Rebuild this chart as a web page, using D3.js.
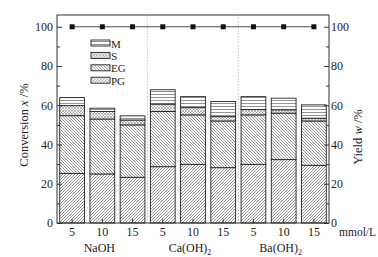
<!DOCTYPE html>
<html>
<head>
<meta charset="utf-8">
<script src="https://cdn.jsdelivr.net/npm/d3@7"></script>
<style>
	body { margin: 0; background: #fff; }
	text { font-family: "Liberation Serif", "DejaVu Serif", serif; fill: #222; }
</style>
</head>
<body>
<div id="container"></div>
<script>
// concentration of each bar (mmol/L) and the base used
const categories = ["5", "10", "15", "5", "10", "15", "5", "10", "15"];
const groups = [["NaOH", ""], ["Ca(OH)", "2"], ["Ba(OH)", "2"]];
// yields (%), stacked from the bottom
const PG = [25.3, 25.0, 23.3, 28.7, 29.9, 28.2, 29.9, 32.3, 29.4];
const EG = [29.4, 28.0, 26.7, 28.1, 25.2, 23.8, 25.2, 23.7, 22.6];
const S = [5.1, 3.8, 2.5, 3.8, 3.7, 2.2, 2.7, 1.7, 1.4];
const M = [4.1, 1.7, 2.1, 7.3, 5.6, 7.7, 6.6, 5.9, 6.8];
// conversion (%)
const conversion = [100, 100, 100, 100, 100, 100, 100, 100, 100];
const yTicks = [0, 20, 40, 60, 80, 100];
const yMinor = [10, 30, 50, 70, 90];

const width = 378;
const height = 257;
const margin = { top: 15, right: 49, bottom: 34, left: 57 };

const svg = d3.select("#container")
				.append("svg")
					.attr("width", width)
					.attr("height", height);

// hatch patterns
const defs = svg.append("defs");
function hatch(id, paths, size, color, sw) {
	const p = defs.append("pattern")
					.attr("id", id)
					.attr("patternUnits", "userSpaceOnUse")
					.attr("width", size)
					.attr("height", size);
	p.append("rect").attr("width", size).attr("height", size).attr("fill", "#fff");
	paths.forEach((d) => p.append("path").attr("d", d)
						.attr("stroke", color).attr("stroke-width", sw));
}
hatch("pg", ["M0,3 L3,0", "M-1,1 L1,-1", "M2,4 L4,2"], 3, "#666", 0.7);
hatch("eg", ["M0,0 L3,3", "M-1,2 L1,4", "M2,-1 L4,1"], 3, "#666", 0.7);
hatch("s", ["M0,0 L3,3", "M0,3 L3,0"], 3, "#888", 0.6);
hatch("m", ["M0,1.5 L3,1.5"], 3, "#666", 0.7);

const series = [
	{ key: "PG", values: PG, fill: "url(#pg)" },
	{ key: "EG", values: EG, fill: "url(#eg)" },
	{ key: "S", values: S, fill: "url(#s)" },
	{ key: "M", values: M, fill: "url(#m)" }
];

const x = d3.scaleBand()
			.domain(d3.range(categories.length))
			.range([margin.left, width - margin.right])
			.paddingInner(0.18)
			.paddingOuter(0.09);

const y = d3.scaleLinear()
			.domain([0, 106])
			.range([height - margin.bottom, margin.top]);

// group separators
[3, 6].forEach((i) => {
	const xs = x(i) - x.step() * x.paddingInner() / 2;
	svg.append("line")
		.attr("x1", xs).attr("x2", xs)
		.attr("y1", margin.top).attr("y2", height - margin.bottom)
		.attr("stroke", "#aaa").attr("stroke-width", 0.7)
		.attr("stroke-dasharray", "1.5,1.5");
});

// stacked bars
const rows = categories.map((c, i) => {
	const r = {};
	series.forEach((s) => r[s.key] = s.values[i]);
	return r;
});
const stack = d3.stack().keys(series.map((s) => s.key))(rows);

stack.forEach((layer, k) => {
	svg.append("g")
		.selectAll("rect")
		.data(layer).enter()
		.append("rect")
			.attr("x", (d, i) => x(i))
			.attr("width", x.bandwidth())
			.attr("y", (d) => y(d[1]))
			.attr("height", (d) => y(d[0]) - y(d[1]))
			.attr("fill", series[k].fill)
			.attr("stroke", "#222")
			.attr("stroke-width", 0.9);
});

// conversion line + squares
const cx = (i) => x(i) + x.bandwidth() / 2;
const line = d3.line()
				.x((d, i) => cx(i))
				.y((d) => y(d));
svg.append("path")
	.attr("d", line(conversion))
	.attr("fill", "none")
	.attr("stroke", "#222")
	.attr("stroke-width", 0.8);
svg.append("g")
	.selectAll("rect")
	.data(conversion).enter()
	.append("rect")
		.attr("x", (d, i) => cx(i) - 2.5)
		.attr("y", (d) => y(d) - 2.5)
		.attr("width", 5)
		.attr("height", 5)
		.attr("fill", "#111");

// frame
svg.append("rect")
	.attr("x", margin.left)
	.attr("y", margin.top)
	.attr("width", width - margin.left - margin.right)
	.attr("height", height - margin.top - margin.bottom)
	.attr("fill", "none")
	.attr("stroke", "#333")
	.attr("stroke-width", 1);

// axes
function styleAxis(g) {
	g.select(".domain").remove();
	g.selectAll("line").attr("stroke", "#333");
	g.selectAll("text").attr("font-size", 12).attr("fill", "#222")
		.style("font-family", "Liberation Serif, serif");
}

svg.append("g")
	.attr("transform", `translate(${margin.left},0)`)
	.call(d3.axisLeft(y).tickValues(yTicks).tickSizeInner(-5).tickSizeOuter(0).tickPadding(4))
	.call(styleAxis);
svg.append("g")
	.attr("transform", `translate(${margin.left},0)`)
	.call(d3.axisLeft(y).tickValues(yMinor).tickSizeInner(-3).tickSizeOuter(0).tickFormat(""))
	.call(styleAxis);

svg.append("g")
	.attr("transform", `translate(${width - margin.right},0)`)
	.call(d3.axisRight(y).tickValues(yTicks).tickSizeInner(-5).tickSizeOuter(0).tickPadding(2))
	.call(styleAxis);
svg.append("g")
	.attr("transform", `translate(${width - margin.right},0)`)
	.call(d3.axisRight(y).tickValues(yMinor).tickSizeInner(-3).tickSizeOuter(0).tickFormat(""))
	.call(styleAxis);

svg.append("g")
	.attr("transform", `translate(0,${height - margin.bottom})`)
	.call(d3.axisBottom(x).tickFormat((i) => categories[i]).tickSizeInner(-4).tickSizeOuter(0).tickPadding(4))
	.call(styleAxis);

svg.append("text")
	.attr("x", 339)
	.attr("y", 236)
	.attr("font-size", 11.5)
	.text("mmol/L");

// group labels
groups.forEach((g, k) => {
	const t = svg.append("text")
				.attr("x", cx(k * 3 + 1) - 3)
				.attr("y", 252)
				.attr("text-anchor", "middle")
				.attr("font-size", 12)
				.text(g[0]);
	if (g[1]) t.append("tspan").attr("font-size", 8).attr("dy", 3).text(g[1]);
});

// axis titles
const lt = svg.append("text")
			.attr("transform", "translate(28,125) rotate(-90)")
			.attr("text-anchor", "middle")
			.attr("font-size", 12.5)
			.text("Conversion  ");
lt.append("tspan").attr("font-style", "italic").text("x");
lt.append("tspan").text(" /%");

const rt = svg.append("text")
			.attr("transform", "translate(362,137) rotate(-90)")
			.attr("text-anchor", "middle")
			.attr("font-size", 12.5)
			.text("Yield  ");
rt.append("tspan").attr("font-style", "italic").text("w");
rt.append("tspan").text(" /%");

// legend
const legendKeys = series.slice().reverse();
const legend = svg.append("g")
				.selectAll("g")
				.data(legendKeys).enter()
				.append("g")
					.attr("transform", (d, i) => `translate(91,${40 + i * 12.4})`);
legend.append("rect")
	.attr("width", 19)
	.attr("height", 6)
	.attr("fill", (d) => d.fill)
	.attr("stroke", "#222")
	.attr("stroke-width", 0.9);
legend.append("text")
	.attr("x", 20)
	.attr("y", 7.5)
	.attr("font-size", 11)
	.text((d) => d.key);
</script>
</body>
</html>
